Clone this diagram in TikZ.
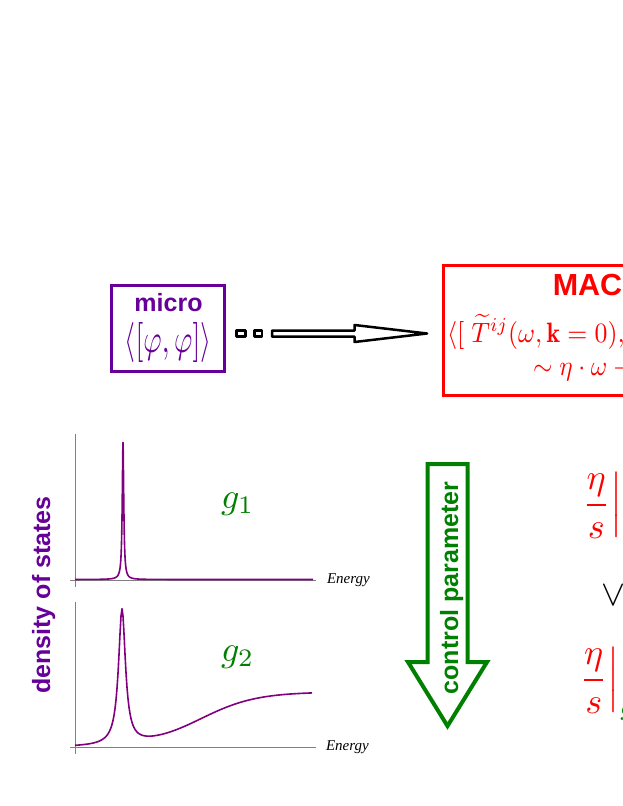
\documentclass[tikz,border=0pt]{standalone}
\usepackage{fontspec}
\usepackage{amsmath}
\newfontfamily\sansfam{Liberation Sans}
\newfontfamily\seriffam{Liberation Serif}
\definecolor{mpurple}{RGB}{102,0,153}
\definecolor{cpurple}{RGB}{128,0,128}
\definecolor{mgreen}{RGB}{0,128,0}
\definecolor{axgray}{RGB}{128,128,128}
\begin{document}
\begin{tikzpicture}[x=1pt,y=-1pt,
  lab/.style={inner sep=0pt, outer sep=0pt},
  bsans/.style={lab, font=\sansfam\bfseries\fontsize{25}{30}\selectfont},
  axisline/.style={draw=axgray, line width=1pt},
  curve/.style={draw=cpurple, line width=1.6pt, line join=round},
  energy/.style={lab, anchor=base west, font=\seriffam\itshape\fontsize{15}{18}\selectfont},
  tenpt/.style={font=\fontsize{10}{12}\selectfont},
  glab/.style={lab, tenpt, anchor=base west, text=mgreen, scale=3.6},
  redmath/.style={lab, tenpt, anchor=base west, text=red, scale=3.6},
  hollow/.style={line width=2.5pt, line join=round},
  bigarrow/.style={draw=mgreen, line width=4pt, line join=miter},
]
\useasboundingbox (0,0) rectangle (623,806);
\clip (0,0) rectangle (623,806);
\fill[white] (0,0) rectangle (623,806);

% micro box
\node[draw=mpurple, line width=3pt, minimum width=113pt, minimum height=86pt, inner sep=0pt] (microbox) at (168,328.5) {};
\node[bsans, text=mpurple, anchor=base] (microtitle) at (168.5,311) {micro};
\node[lab, tenpt, text=mpurple, anchor=base, xscale=2.8, yscale=4.0] (micromath) at (168,352) {$\langle[\varphi,\varphi]\rangle$};

% dashed hollow arrow
\draw[hollow] (236.3,330.5) rectangle (245.5,336.5);
\draw[hollow] (254.5,330.5) rectangle (262,336.5);
\draw[hollow] (272,330.5) -- (354.5,330.5) -- (354.5,325) -- (427,333.5) -- (354.5,342) -- (354.5,336.5) -- (272,336.5) -- cycle;

% MACRO box
\draw[red, line width=3pt] (443.5,265.5) rectangle (830,395.5);
\node[lab, text=red, anchor=base west, font=\sansfam\bfseries\fontsize{30.5}{36}\selectfont] (macrotitle) at (552.8,295) {MACRO};
\node[lab, tenpt, text=red, anchor=base west, xscale=2.58, yscale=2.8] (macromath1) at (447,342) {$\langle[\;\widetilde{T}^{ij}(\omega,\mathbf{k}=0),$};
\node[lab, tenpt, text=red, anchor=base west, xscale=2.5, yscale=2.8] (macromath2) at (533,375.5) {$\sim\eta\cdot\omega-{}$};

% density of states label
\node[bsans, text=mpurple, rotate=90, anchor=base] (dos) at (50,595) {density of states};

% plot 1
\draw[axisline] (75,434) -- (75,587);
\draw[axisline] (70,580) -- (316,580);
\draw[curve] plot[domain=75:313, samples=953] (\x, {579.5-137/(1+min(abs(\x-123)/0.9,100)^2)});
\node[energy] (energy1) at (327,583) {Energy};
\node[glab] (g1) at (221,508) {$g_1$};

% plot 2
\draw[axisline] (75,602) -- (75,754);
\draw[axisline] (70,747) -- (316,747);
\draw[curve] plot[domain=75:312, samples=238] (\x, {747-135/(1+min(abs(\x-122)/4.2,100)^2)-55/(1+exp(-(\x-200)/28))});
\node[energy] (energy2) at (326,750) {Energy};
\node[glab] (g2) at (221,661) {$g_2$};

% control parameter arrow
\draw[bigarrow] (427.5,464) -- (467.5,464) -- (467.5,662) -- (487,662) -- (447.5,726) -- (408,662) -- (427.5,662) -- cycle;
\node[bsans, text=mgreen, rotate=90, anchor=base] (ctrl) at (458,588) {control parameter};

% ratios
\node[redmath] (ratio1) at (578,514) {$\displaystyle\left.\frac{\eta}{s}\right|_{\color{mgreen}g_1}$};
\node[lab, tenpt, scale=3.6] (vee) at (613,595) {$\vee$};
\node[redmath] (ratio2) at (575.5,689) {$\displaystyle\left.\frac{\eta}{s}\right|_{\color{mgreen}g_2}$};
\end{tikzpicture}
\end{document}
